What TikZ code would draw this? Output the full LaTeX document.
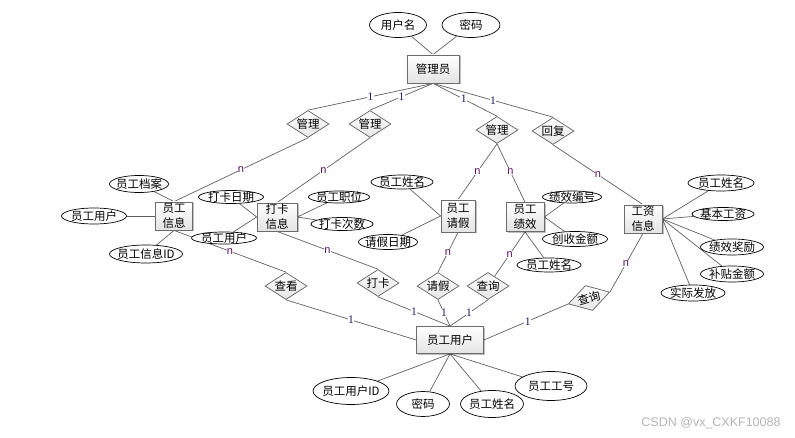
\documentclass[tikz,border=0pt]{standalone}
\usepackage{fontspec}
\setmainfont{Liberation Sans}
\newfontfamily\cjk{Noto Sans CJK SC}
\newfontfamily\numfont{Liberation Serif}
\usetikzlibrary{shapes.geometric,shadows}
\definecolor{edgec}{HTML}{606060}
\definecolor{onec}{HTML}{1C1C66}
\definecolor{manyc}{HTML}{5A1060}
\definecolor{wmc}{HTML}{B4B4B4}
\pgfdeclarelayer{bg}
\pgfsetlayers{bg,main}
\begin{document}
\begin{tikzpicture}[x=1pt,y=-1pt,
  lb/.style={font=\cjk\fontsize{11.5}{15}\selectfont, inner sep=0pt, align=center},
  ent/.style={rectangle, draw=gray!85!black, line width=0.8pt, top color=white, bottom color=gray!22,
    drop shadow={shadow xshift=1.5pt, shadow yshift=-1.5pt, fill=black, opacity=0.25}, inner sep=0pt},
  rel/.style={diamond, draw=edgec, line width=0.7pt, top color=white, bottom color=gray!20,
    minimum width=42pt, minimum height=27pt, inner sep=0pt},
  att/.style={ellipse, draw=black, line width=0.7pt, fill=white, inner sep=0pt},
  conn/.style={draw=edgec, line width=0.7pt},
  one/.style={font=\numfont\fontsize{11.5}{12}\selectfont, text=onec, fill=white, inner sep=0.4pt},
  many/.style={font=\fontsize{11}{12}\selectfont, text=manyc, fill=white, inner sep=0.4pt}]
\useasboundingbox (0,0) rectangle (795,438);

% administrator
\node[att, minimum width=57pt, minimum height=25pt, label={[lb]center:用户名}] (yhm) at (398,25) {};
\node[att, minimum width=58pt, minimum height=25pt, label={[lb]center:密码}] (mm1) at (471,25) {};
\node[ent, minimum width=52pt, minimum height=28pt, label={[lb]center:管理员}] (gly) at (433,69) {};
\node[rel, label={[lb]center:管理}] (gl1) at (308,124) {};
\node[rel, label={[lb]center:管理}] (gl2) at (370,124) {};
\node[rel, label={[lb]center:管理}] (gl3) at (497,130) {};
\node[rel, label={[lb]center:回复}] (hf) at (553,131) {};

% employee info
\node[ent, minimum width=37pt, minimum height=28pt, label={[lb]center:员工\\信息}] (ygxx) at (174,216) {};
\node[att, minimum width=59pt, minimum height=17pt, label={[lb]center:员工档案}] (ygda) at (139,184) {};
\node[att, minimum width=65pt, minimum height=16pt, label={[lb]center:员工用户}] (ygyh1) at (94,216) {};
\node[att, minimum width=73pt, minimum height=18pt, label={[lb]center:员工信息ID}] (ygxxid) at (146,254) {};

% clock-in info
\node[ent, minimum width=40pt, minimum height=28pt, label={[lb]center:打卡\\信息}] (dkxx) at (277,217) {};
\node[att, minimum width=65pt, minimum height=13pt, label={[lb]center:打卡日期}] (dkrq) at (231,197) {};
\node[att, minimum width=65pt, minimum height=12pt, label={[lb]center:员工用户}] (ygyh2) at (224,238) {};
\node[att, minimum width=61pt, minimum height=12pt, label={[lb]center:员工职位}] (ygzw) at (339,197) {};
\node[att, minimum width=62pt, minimum height=13pt, label={[lb]center:打卡次数}] (dkcs) at (342,224) {};

% leave
\node[ent, minimum width=34pt, minimum height=32pt, label={[lb]center:员工\\请假}] (ygqj) at (458,216) {};
\node[att, minimum width=62pt, minimum height=14pt, label={[lb]center:员工姓名}] (ygxm1) at (402,182) {};
\node[att, minimum width=59pt, minimum height=15pt, label={[lb]center:请假日期}] (qjrq) at (388,242) {};

% performance
\node[ent, minimum width=38pt, minimum height=29pt, label={[lb]center:员工\\绩效}] (ygjx) at (525,217) {};
\node[att, minimum width=59pt, minimum height=12pt, label={[lb]center:绩效编号}] (jxbh) at (572,197) {};
\node[att, minimum width=65pt, minimum height=15pt, label={[lb]center:创收金额}] (csje) at (575,239) {};
\node[att, minimum width=64pt, minimum height=14pt, label={[lb]center:员工姓名}] (ygxm2) at (549,265) {};

% salary
\node[ent, minimum width=38pt, minimum height=28pt, label={[lb]center:工资\\信息}] (gzxx) at (643,219) {};
\node[att, minimum width=66pt, minimum height=16pt, label={[lb]center:员工姓名}] (ygxm3) at (721,183) {};
\node[att, minimum width=62pt, minimum height=13pt, label={[lb]center:基本工资}] (jbgz) at (723,214) {};
\node[att, minimum width=63pt, minimum height=16pt, label={[lb]center:绩效奖励}] (jxjl) at (732,247) {};
\node[att, minimum width=63pt, minimum height=16pt, label={[lb]center:补贴金额}] (btje) at (732,274) {};
\node[att, minimum width=64pt, minimum height=16pt, label={[lb]center:实际发放}] (sjff) at (693,293) {};

% lower relations
\node[rel, label={[lb]center:查看}] (ck) at (286,286) {};
\node[rel, label={[lb]center:打卡}] (dk) at (378,283) {};
\node[rel, label={[lb]center:请假}] (qj) at (438,286) {};
\node[rel, label={[lb]center:查询}] (cx1) at (488,286) {};
\node[rel, minimum width=43pt, minimum height=26pt, rotate=16] (cx2) at (589,298) {};
\node[lb, rotate=16] (cx2t) at (cx2.center) {查询};

% employee user
\node[ent, minimum width=67pt, minimum height=27pt, label={[lb]center:员工用户}] (ygyh) at (450,340) {};
\node[att, minimum width=76pt, minimum height=27pt, label={[lb]center:员工用户ID}] (ygyhid) at (351,391) {};
\node[att, minimum width=53pt, minimum height=25pt, label={[lb]center:密码}] (mm2) at (423,404) {};
\node[att, minimum width=63pt, minimum height=27pt, label={[lb]center:员工姓名}] (ygxm4) at (492,404) {};
\node[att, minimum width=72pt, minimum height=29pt, label={[lb]center:员工工号}] (yggh) at (551,386) {};

\node[font=\fontsize{12.5}{14}\selectfont, text=wmc, inner sep=0pt] (wm) at (711,423) {CSDN @vx\_CXKF10088};

\begin{pgfonlayer}{bg}
% attributes
\draw[conn] (yhm) -- (gly.north);
\draw[conn] (mm1) -- (gly.north);
\draw[conn] (ygda) -- (ygxx.north);
\draw[conn] (ygyh1) -- (ygxx.west);
\draw[conn] (ygxxid) -- (ygxx.south);
\draw[conn] (dkrq) -- (dkxx.west);
\draw[conn] (ygyh2) -- (dkxx.west);
\draw[conn] (ygzw) -- (dkxx.east);
\draw[conn] (dkcs) -- (dkxx.east);
\draw[conn] (ygxm1) -- (ygqj.west);
\draw[conn] (qjrq) -- (ygqj.west);
\draw[conn] (jxbh) -- (ygjx.east);
\draw[conn] (csje) -- (ygjx.east);
\draw[conn] (ygxm2) -- (ygjx.south);
\draw[conn] (ygxm3) -- (gzxx.east);
\draw[conn] (jbgz) -- (gzxx.east);
\draw[conn] (jxjl) -- (gzxx.east);
\draw[conn] (btje) -- (gzxx.east);
\draw[conn] (sjff) -- (gzxx.east);
\draw[conn] (ygyhid) -- (ygyh.south);
\draw[conn] (mm2) -- (ygyh.south);
\draw[conn] (ygxm4) -- (ygyh.south);
\draw[conn] (yggh) -- (ygyh.south);
% administrator relations
\draw[conn] (gly.south) -- node[one, pos=0.5]{1} (gl1.north);
\draw[conn] (gly.south) -- node[one, pos=0.5]{1} (gl2.north);
\draw[conn] (gly.south) -- node[one, pos=0.48]{1} (gl3.north);
\draw[conn] (gly.south) -- node[one, pos=0.5]{1} (hf.north);
\draw[conn] (gl1.south) -- node[many, pos=0.5]{n} (ygxx.north);
\draw[conn] (gl2.south) -- node[many, pos=0.5]{n} (dkxx.north);
\draw[conn] (gl3.south) -- node[many, pos=0.5]{n} (ygqj.north);
\draw[conn] (gl3.south) -- node[many, pos=0.48]{n} (ygjx.north);
\draw[conn] (hf.south) -- node[many, pos=0.5]{n} (gzxx.north);
% employee-user relations
\draw[conn] (ygxx.south) -- node[many, pos=0.5]{n} (ck.north);
\draw[conn] (dkxx.south) -- node[many, pos=0.5]{n} (dk.north);
\draw[conn] (ygqj.south) -- node[many, pos=0.5]{n} (qj.north);
\draw[conn] (ygjx.south) -- node[many, pos=0.5]{n} (cx1);
\draw[conn] (gzxx.south) -- node[many, pos=0.52]{n} (cx2.east);
\draw[conn] (ck.south) -- node[one, pos=0.5]{1} (ygyh.west);
\draw[conn] (dk.south) -- node[one, pos=0.5]{1} (ygyh.north);
\draw[conn] (qj.south) -- node[one, pos=0.5]{1} (ygyh.north);
\draw[conn] (cx1.south) -- node[one, pos=0.5]{1} (ygyh.north);
\draw[conn] (cx2.west) -- node[one, pos=0.48]{1} (ygyh.east);
\end{pgfonlayer}
\end{tikzpicture}
\end{document}
